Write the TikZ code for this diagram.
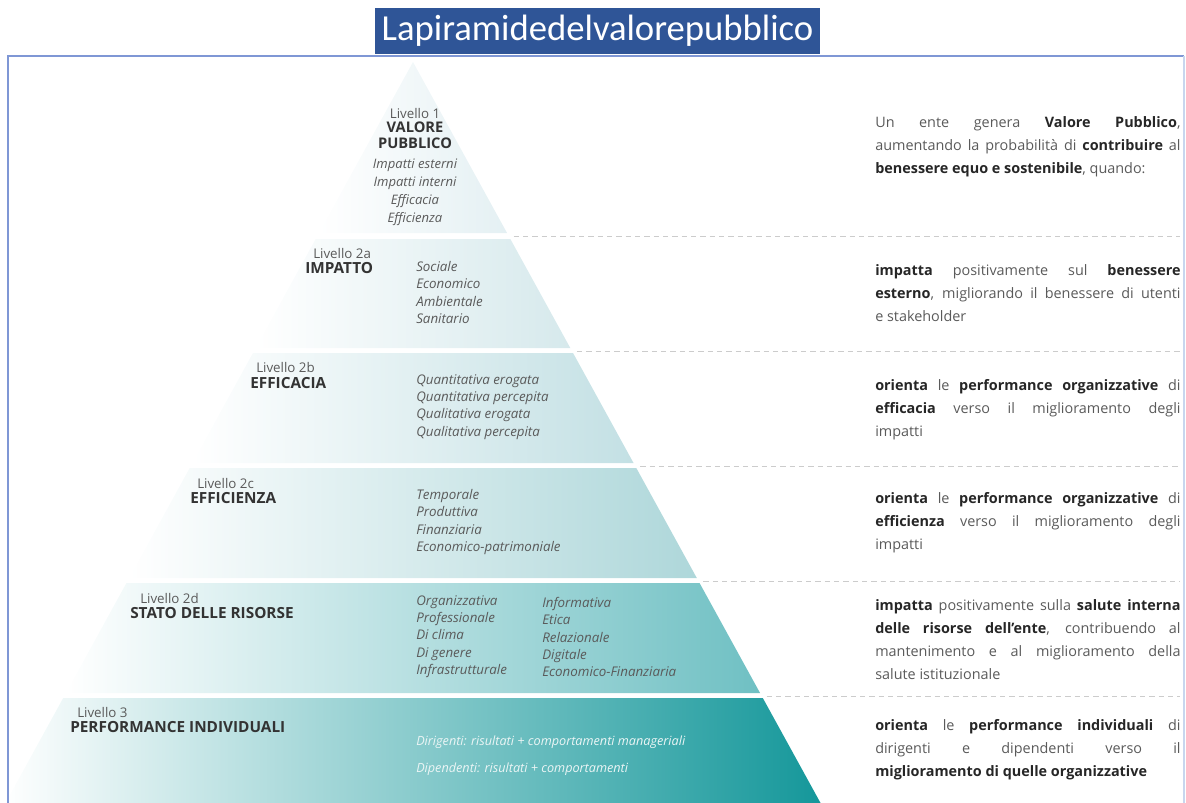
\documentclass[tikz,border=0pt]{standalone}
\usepackage{fontspec}
\setmainfont{Open Sans}
\newfontfamily\titlefont{Carlito}
\usetikzlibrary{positioning}

\definecolor{titleblue}{HTML}{2F5597}
\definecolor{frameblue}{HTML}{7F97D5}
\definecolor{framelight}{HTML}{C8D6EE}
\definecolor{bandA}{HTML}{E4F0F3}
\definecolor{bandB}{HTML}{D6E9EC}
\definecolor{bandC}{HTML}{C3E0E4}
\definecolor{bandD}{HTML}{AED7DA}
\definecolor{bandE}{HTML}{6FC0C3}
\definecolor{bandF}{HTML}{14979A}
\definecolor{txtgray}{HTML}{5A5A5A}
\newcommand{\bw}[1]{\textcolor{black!85}{\textbf{#1}}}

\tikzset{
	lvl/.style={anchor=west, inner sep=0pt, font=\fontsize{10}{11}\selectfont, text=txtgray},
	lvlname/.style={anchor=west, inner sep=0pt, font=\bfseries\fontsize{11.5}{11.6}\selectfont, text=black!80},
	items/.style={anchor=north west, inner sep=0pt, align=left, font=\itshape\fontsize{10}{13}\selectfont, text=txtgray},
	descr/.style={anchor=north west, inner sep=0pt, text width=229pt, align=justify, font=\fontsize{10.8}{17.25}\selectfont, text=txtgray},
	sepline/.style={dash pattern=on 4pt off 3pt, gray!40, line width=0.6pt},
}

\begin{document}
\begin{tikzpicture}[x=0.75pt,y=-0.75pt]
	\useasboundingbox (0,0) rectangle (1186,803);
	
	% bands of the pyramid
	\foreach \ya/\yb/\col in {62/233/bandA, 239/348/bandB, 353/463/bandC, 468/578/bandD, 583/693/bandE, 698/808/bandF}{
		\shade[left color=white, right color=\col] ({413-0.55*(\ya-62)},\ya) -- ({413+0.55*(\ya-62)},\ya) -- ({413+0.55*(\yb-62)},\yb) -- ({413-0.55*(\yb-62)},\yb) -- cycle;
	}
	\foreach \s in {236,351,466,581,696}
		\draw[sepline] ({418+0.55*(\s-62)},\s) -- (1180,\s);
	
	\draw[frameblue, line width=1.5pt] (8,808) |- (1184,56);
	\draw[framelight, line width=1.2pt] (1184,56) -- (1184,808);
	
	\node[fill=titleblue, text=white, font=\titlefont\fontsize{27.5}{27.5}\selectfont, minimum width=333.75pt, minimum height=34.5pt, inner sep=0pt] (title) at (597.5,31) {Lapiramidedelvalorepubblico};
	
	% level labels
	\node[lvl, anchor=center] (lvlone) at (415,113) {Livello 1};
	\node[lvlname, anchor=north, align=center, font=\bfseries\fontsize{11}{11.6}\selectfont] (nameone) at (415,122) {VALORE\\PUBBLICO};
	\node[items, anchor=north, align=center, font=\itshape\fontsize{9.8}{13.5}\selectfont] (itemsone) at (415,159) {Impatti esterni\\Impatti interni\\Efficacia\\Efficienza};
	
	\node[lvl] (lvltwoa) at (313,253) {Livello 2a};
	\node[lvlname] (nametwoa) at (305,268) {IMPATTO};
	\node[items] (itemstwoa) at (416,261) {Sociale\\Economico\\Ambientale\\Sanitario};
	
	\node[lvl] (lvltwob) at (256,367) {Livello 2b};
	\node[lvlname] (nametwob) at (250,383) {EFFICACIA};
	\node[items] (itemstwob) at (416,374) {Quantitativa erogata\\Quantitativa percepita\\Qualitativa erogata\\Qualitativa percepita};
	
	\node[lvl] (lvltwoc) at (197,483) {Livello 2c};
	\node[lvlname] (nametwoc) at (190,498) {EFFICIENZA};
	\node[items] (itemstwoc) at (416,489) {Temporale\\Produttiva\\Finanziaria\\Economico-patrimoniale};
	
	\node[lvl] (lvltwod) at (140,598) {Livello 2d};
	\node[lvlname] (nametwod) at (130,613) {STATO DELLE RISORSE};
	\node[items] (itemstwod) at (416,595) {Organizzativa\\Professionale\\Di clima\\Di genere\\Infrastrutturale};
	\node[items] (itemstwodb) at (542,597) {Informativa\\Etica\\Relazionale\\Digitale\\Economico-Finanziaria};
	
	\node[lvl] (lvlthree) at (77,712) {Livello 3};
	\node[lvlname] (namethree) at (70,727) {PERFORMANCE INDIVIDUALI};
	\node[items, text=white!92!teal, font=\itshape\fontsize{9.5}{20.25}\selectfont] (itemsthree) at (416,736) {Dirigenti: risultati + comportamenti manageriali\\Dipendenti: risultati + comportamenti};
	
	% descriptions on the right
	\node[descr] (descone) at (875,116) {Un ente genera \bw{Valore Pubblico},\linebreak aumentando la probabilità di \bw{contribuire} al\linebreak \bw{benessere equo e sostenibile}, quando:};
	\node[descr] (desctwoa) at (875,264) {\bw{impatta} positivamente sul \bw{benessere}\linebreak \bw{esterno}, migliorando il benessere di utenti\linebreak e stakeholder};
	\node[descr] (desctwob) at (875,379) {\bw{orienta} le \bw{performance organizzative} di\linebreak \bw{efficacia} verso il miglioramento degli\linebreak impatti};
	\node[descr] (desctwoc) at (875,492) {\bw{orienta} le \bw{performance organizzative} di\linebreak \bw{efficienza} verso il miglioramento degli\linebreak impatti};
	\node[descr] (desctwod) at (875,599) {\bw{impatta} positivamente sulla \bw{salute interna}\linebreak \bw{delle risorse dell’ente}, contribuendo al\linebreak mantenimento e al miglioramento della\linebreak salute istituzionale};
	\node[descr] (descthree) at (875,719) {\bw{orienta} le \bw{performance individuali} di\linebreak dirigenti e dipendenti verso il\linebreak \bw{miglioramento di quelle organizzative}};
\end{tikzpicture}
\end{document}
